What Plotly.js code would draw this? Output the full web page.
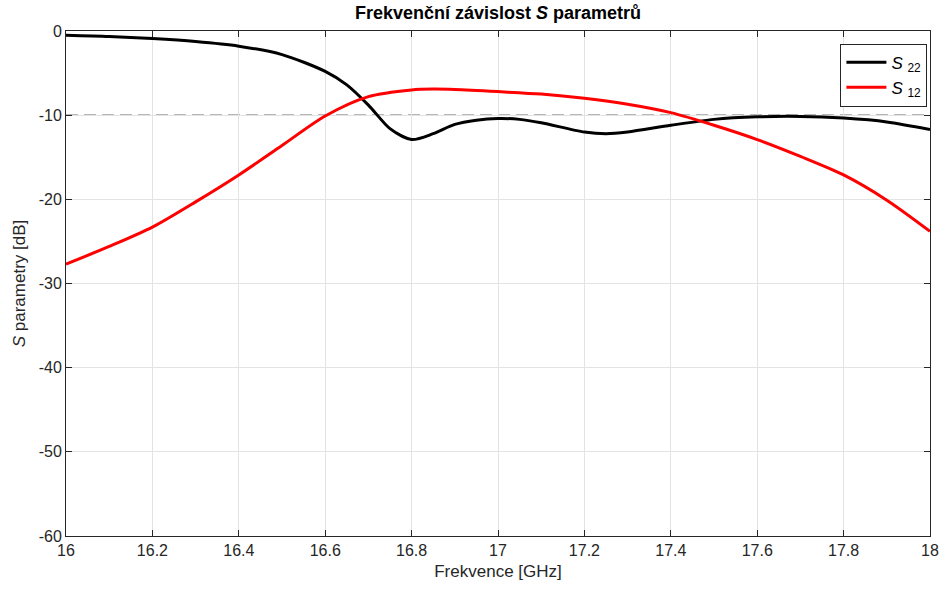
<!DOCTYPE html>
<html>
<head>
<meta charset="utf-8">
<script src="https://cdn.plot.ly/plotly-3.0.1.min.js"></script>
<style>html,body{margin:0;padding:0;background:#fff;}#chart{width:944px;height:592px;}</style>
</head>
<body>
<div id="chart"></div>
<script>
const freqS22 = [16.0, 16.1, 16.2, 16.3, 16.4, 16.5, 16.6, 16.65, 16.7, 16.75, 16.8, 16.85, 16.9, 16.95, 17.0, 17.05, 17.1, 17.2, 17.25, 17.3, 17.4, 17.5, 17.6, 17.7, 17.8, 17.9, 18.0];
const s22 = [-0.5, -0.65, -0.9, -1.25, -1.8, -2.8, -4.8, -6.4, -8.8, -11.6, -12.9, -12.2, -11.1, -10.6, -10.4, -10.5, -10.9, -12.0, -12.2, -12.0, -11.2, -10.5, -10.2, -10.15, -10.35, -10.8, -11.7];
const freqS12 = [16.0, 16.1, 16.2, 16.3, 16.4, 16.5, 16.6, 16.7, 16.8, 16.85, 16.9, 17.0, 17.1, 17.2, 17.3, 17.4, 17.5, 17.6, 17.7, 17.8, 17.9, 18.0];
const s12 = [-27.7, -25.6, -23.3, -20.3, -17.1, -13.6, -10.1, -7.8, -7.0, -6.9, -6.95, -7.2, -7.5, -8.0, -8.7, -9.7, -11.2, -12.9, -14.9, -17.1, -20.1, -23.8];
const thresholdDb = -10;
const xTickVals = [16, 16.2, 16.4, 16.6, 16.8, 17, 17.2, 17.4, 17.6, 17.8, 18];
const xTickText = ['16', '16.2', '16.4', '16.6', '16.8', '17', '17.2', '17.4', '17.6', '17.8', '18'];
const yTickVals = [0, -10, -20, -30, -40, -50, -60];
const yTickText = ['0', '-10', '-20', '-30', '-40', '-50', '-60'];

const font = 'Liberation Sans, Arial, sans-serif';
const traces = [
  {x: freqS22, y: s22, mode: 'lines', name: '<i>S</i> <sub>22</sub>', line: {color: '#000000', width: 3, shape: 'spline', smoothing: 0.8}},
  {x: freqS12, y: s12, mode: 'lines', name: '<i>S</i> <sub>12</sub>', line: {color: '#ff0000', width: 3, shape: 'spline', smoothing: 0.8}}
];
const axisCommon = {
  showline: true, linecolor: '#262626', linewidth: 1, mirror: 'ticks',
  ticks: 'inside', ticklen: 6, tickcolor: '#262626',
  showgrid: true, gridcolor: '#e3e3e3', gridwidth: 1, zeroline: false,
  tickfont: {family: font, size: 16, color: '#262626'}, tickmode: 'array'
};
const layout = {
  width: 944, height: 592,
  margin: {l: 66, r: 14, t: 31, b: 56},
  paper_bgcolor: '#ffffff', plot_bgcolor: '#ffffff',
  title: {text: '<b>Frekvenční závislost <i>S</i> parametrů</b>', font: {family: font, size: 18, color: '#000'}, x: 0.5, xref: 'paper', y: 0.978, yanchor: 'middle'},
  xaxis: Object.assign({}, axisCommon, {range: [16, 18], tickvals: xTickVals, ticktext: xTickText,
    title: {text: 'Frekvence [GHz]', font: {family: font, size: 17, color: '#262626'}, standoff: 6}}),
  yaxis: Object.assign({}, axisCommon, {range: [-60, 0], tickvals: yTickVals, ticktext: yTickText,
    title: {text: '<i>S</i> parametry [dB]', font: {family: font, size: 17, color: '#262626'}, standoff: 8}}),
  shapes: [{type: 'line', xref: 'paper', x0: 0, x1: 1, yref: 'y', y0: thresholdDb, y1: thresholdDb,
    line: {color: '#6e6e6e', width: 1.5, dash: '12px,6px'}, layer: 'between'}],
  showlegend: true,
  legend: {x: 0.997, xanchor: 'right', y: 0.975, yanchor: 'top', bgcolor: '#ffffff',
    bordercolor: '#262626', borderwidth: 1, font: {family: font, size: 17, color: '#000'}, itemwidth: 40, tracegroupgap: 4}
};
Plotly.newPlot('chart', traces, layout, {displayModeBar: false});
</script>
</body>
</html>
